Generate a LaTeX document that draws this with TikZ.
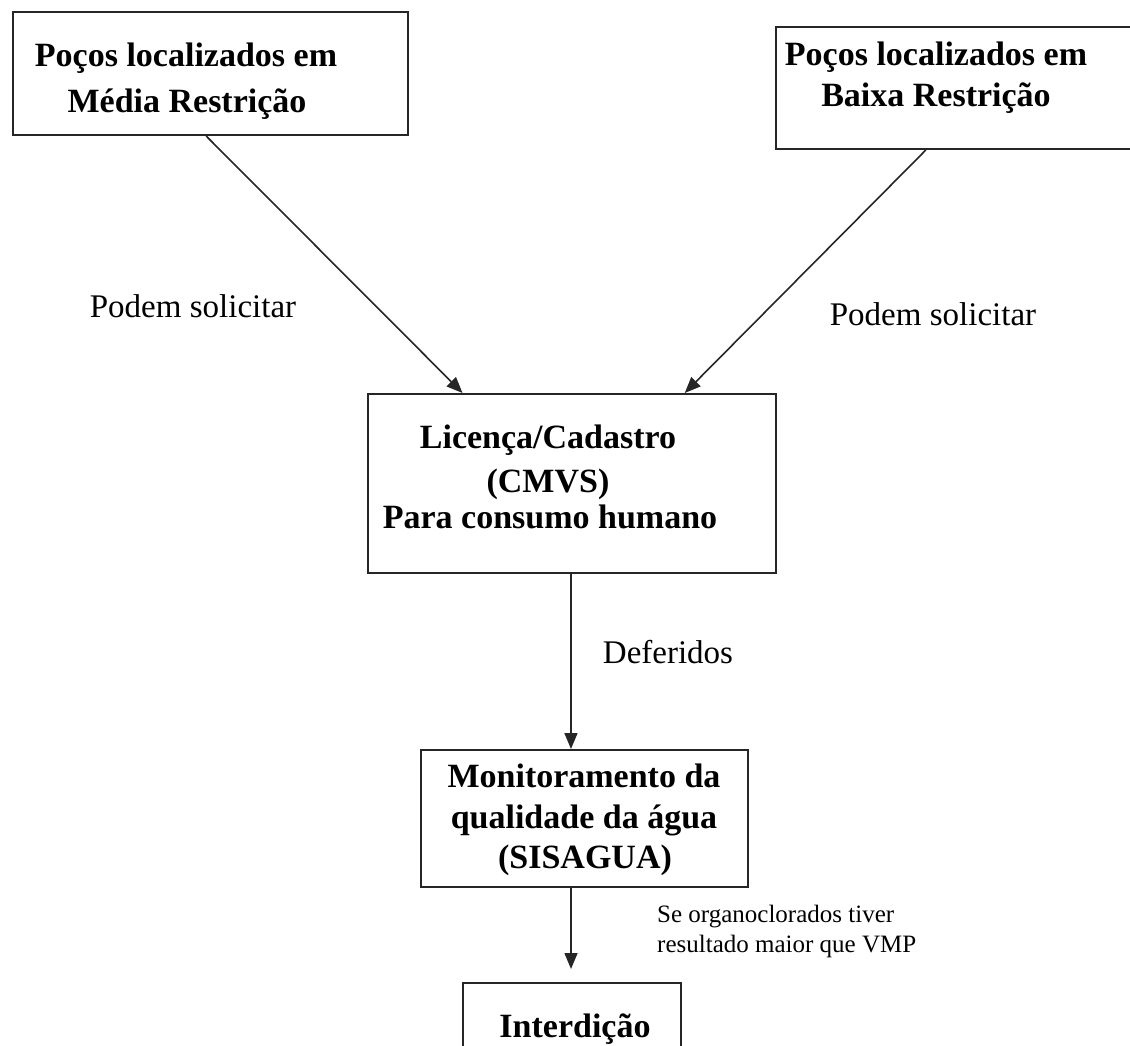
\documentclass[tikz,border=0pt]{standalone}
\usepackage{fontspec}
\setmainfont{Liberation Serif}
\usetikzlibrary{arrows.meta,calc}
\begin{document}
\begin{tikzpicture}[x=1pt,y=-1pt,
  box/.style={draw=black!85,line width=2pt,rectangle,inner sep=0pt,anchor=north west},
  bt/.style={font=\fontsize{34}{44}\selectfont\bfseries,inner sep=0pt,anchor=base},
  lbl/.style={font=\fontsize{33}{40}\selectfont,inner sep=0pt,anchor=base},
  sml/.style={font=\fontsize{25}{30}\selectfont,inner sep=0pt,anchor=base west},
  arr/.style={draw=black!85,line width=1.6pt,-{Triangle[length=16pt,width=13pt]}}]
\useasboundingbox (0,0) rectangle (1130,1046);
\clip (0,0) rectangle (1130,1046);
% boxes
\node[box,minimum width=395pt,minimum height=123pt] (b1) at (12,11) {};
\node[box,minimum width=365pt,minimum height=122pt] (b2) at (775,26) {};
\node[box,minimum width=408pt,minimum height=179pt] (b3) at (367,393) {};
\node[box,minimum width=327pt,minimum height=137pt] (b4) at (420,749) {};
\node[box,minimum width=218pt,minimum height=100pt] (b5) at (462,982) {};
% box texts
\node[bt] (t1a) at (186,67) {Poços localizados em};
\node[bt] (t1b) at (187,113) {Média Restrição};
\node[bt] (t2a) at (936,66) {Poços localizados em};
\node[bt] (t2b) at (936,107) {Baixa Restrição};
\node[bt] (t3a) at (548,448) {Licença/Cadastro};
\node[bt] (t3b) at (548,492) {(CMVS)};
\node[bt] (t3c) at (550,528) {Para consumo humano};
\node[bt] (t4a) at (584,787) {Monitoramento da};
\node[bt] (t4b) at (584,828) {qualidade da água};
\node[bt] (t4c) at (585,868) {(SISAGUA)};
\node[bt] (t5) at (575,1037) {Interdição};
% labels
\node[lbl] (l1) at (193,317) {Podem solicitar};
\node[lbl] (l2) at (933,325) {Podem solicitar};
\node[lbl] (l3) at (668,663) {Deferidos};
\node[sml] (l4a) at (657,922) {Se organoclorados tiver};
\node[sml] (l4b) at (657,952) {resultado maior que VMP};
% connectors
\coordinate (s3) at ($(b3.south west)!0.4975!(b3.south east)$);
\coordinate (s4) at ($(b4.south west)!0.459!(b4.south east)$);
\coordinate (e4) at ($(s4)+(0,81)$);
\draw[arr] ($(b1.south west)!0.489!(b1.south east)$) -- ($(b3.north west)!0.233!(b3.north east)$);
\draw[arr] ($(b2.south west)!0.411!(b2.south east)$) -- ($(b3.north west)!0.775!(b3.north east)$);
\draw[arr] (s3) -- (s3 |- b4.north);
\draw[arr] (s4) -- (e4);
\end{tikzpicture}
\end{document}
